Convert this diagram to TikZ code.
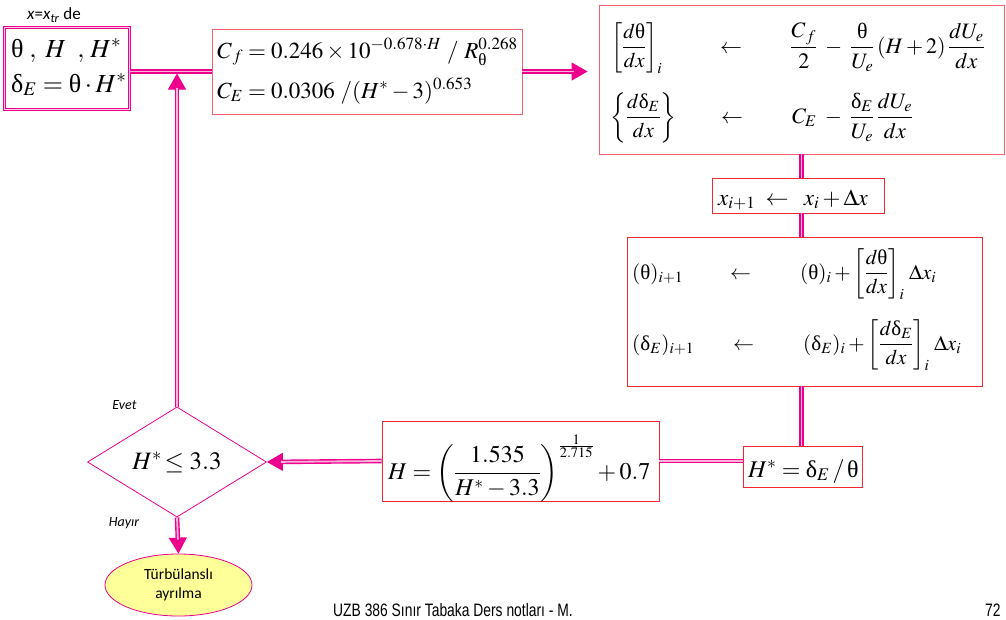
\documentclass[tikz,border=0pt]{standalone}
\usepackage{amsmath}
\usepackage{mathptmx}
\usepackage[no-math]{fontspec}
\setmainfont{Liberation Serif}
\setsansfont{Carlito}
\newfontfamily\footfont{Liberation Sans}
\usepackage{graphicx}
\usetikzlibrary{arrows.meta,shapes.geometric}

% upright Greek letters taken from the text font
\newcommand{\tht}{\text{\normalfont θ}}
\newcommand{\dlt}{\text{\normalfont δ}}
\newcommand{\fsz}[1]{\fontsize{#1}{#1}\selectfont}

\definecolor{salmon}{RGB}{242,96,108}
\definecolor{boxred}{RGB}{240,40,50}
\definecolor{paleyellow}{RGB}{255,255,153}

\tikzset{
  link/.style={draw=magenta, line width=1.4pt, double=magenta!30, double distance=1.8pt},
  tipline/.style={draw=magenta, line width=1pt, -{Triangle[length=16pt,width=18pt]}},
  frame/.style={draw=salmon, line width=0.9pt, inner sep=0pt},
  redframe/.style={draw=boxred, line width=0.8pt, inner sep=0pt},
  tlframe/.style={draw=magenta, line width=0.7pt, double=magenta!20, double distance=1.6pt, inner sep=0pt},
  txt/.style={anchor=base west, inner sep=0pt},
}

\begin{document}
\begin{tikzpicture}[x=1pt,y=-1pt]
\useasboundingbox (0,0) rectangle (1006,619);

% start condition
\node[anchor=center, inner sep=0pt] (start) at (54,15)
  {\sffamily\fsz{17}\textit{x}=\textit{x}\textsubscript{\textit{tr}} de};
\node[tlframe, minimum width=125pt, minimum height=82pt] (tl) at (67,68.5) {};
\node[txt] (tl1) at (11,57) {\fsz{26}$\tht\;,\;H\;\;,\,H^{*}$};
\node[txt] (tl2) at (11,92) {\fsz{26}$\dlt_E=\tht\cdot H^{*}$};

% skin friction and entrainment
\node[frame, minimum width=310pt, minimum height=85pt] (cf) at (367,71.5) {};
\node[txt] (cf1) at (217,58) {\fsz{23}$C_{\,f}=0.246\times10^{-0.678\cdot H}\ /\ R_{\tht}^{0.268}$};
\node[txt] (cf2) at (217,98) {\fsz{23}$C_E=0.0306\ /(H^{*}-3)^{0.653}$};

% derivatives
\node[frame, minimum width=405pt, minimum height=149pt] (tr) at (801.5,79.5) {};
\node[txt] (tra) at (611,53) {\fsz{21}$\left[\dfrac{d\tht}{dx}\right]_i$};
\node[txt] (trb) at (720,53) {\fsz{22}$\leftarrow$};
\node[txt] (trc) at (790,53) {\fsz{22}$\dfrac{C_{\,f}}{2}\;-\;\dfrac{\tht}{U_e}\,(H+2)\,\dfrac{dU_e}{dx}$};
\node[txt] (trd) at (610,123) {\fsz{21}$\left\{\dfrac{d\dlt_E}{dx}\right\}$};
\node[txt] (tre) at (721,123) {\fsz{22}$\leftarrow$};
\node[txt] (trf) at (792,123) {\fsz{22}$C_E\;-\;\dfrac{\dlt_E}{U_e}\,\dfrac{dU_e}{dx}$};

% step
\node[redframe, minimum width=172pt, minimum height=35pt] (xb) at (798,195.5) {};
\node[txt] (xbt) at (718,205) {\fsz{23}$x_{i+1}\;\leftarrow\;\;x_i+\Delta x$};

% update
\node[redframe, minimum width=355pt, minimum height=149pt] (mid) at (804.5,311.5) {};
\node[txt] (ma) at (632,279) {\fsz{21}$(\tht)_{i+1}$};
\node[txt] (mb) at (730,279) {\fsz{21}$\leftarrow$};
\node[txt] (mc) at (800,279) {\fsz{21}$(\tht)_i+\left[\dfrac{d\tht}{dx}\right]_i\,\Delta x_i$};
\node[txt] (md) at (632,350) {\fsz{21}$(\dlt_E)_{i+1}$};
\node[txt] (me) at (733,350) {\fsz{21}$\leftarrow$};
\node[txt] (mf) at (803,350) {\fsz{21}$(\dlt_E)_i+\left[\dfrac{d\dlt_E}{dx}\right]_i\,\Delta x_i$};

% shape factors
\node[redframe, minimum width=119pt, minimum height=41pt] (hs) at (802.5,466.5) {};
\node[txt] (hst) at (748,477) {\fsz{24}$H^{*}=\dlt_E\,/\,\tht$};
\node[redframe, minimum width=277pt, minimum height=80pt] (hb) at (520.5,461) {};
\node[txt] (hbt) at (388,479) {\fsz{24}$H=\left(\dfrac{1.535}{H^{*}-3.3}\right)^{\frac{1}{2.715}}+0.7$};

% decision and end
\node[diamond, draw=magenta, line width=0.8pt, inner sep=0pt, minimum width=179pt, minimum height=81pt] (dia) at (177,462)
  {\fsz{25}$H^{*}\!\le 3.3$};
\node[ellipse, draw=magenta, line width=0.8pt, fill=paleyellow, minimum width=147pt, minimum height=62pt, align=center, inner sep=0pt,
      font={\sffamily\fontsize{15.5}{19}\selectfont}] (ell) at (178.5,585)
  {Türbülanslı\\ ayrılma};
\node[inner sep=0pt] (evet) at (124.5,405) {\sffamily\itshape\fsz{14}Evet};
\node[inner sep=0pt] (hayir) at (124,523) {\sffamily\itshape\fsz{14}Hayır};

% footer
\node[txt] (foot) at (333,616) {\footfont\fsz{18}\scalebox{0.77}[1]{UZB 386 Sınır Tabaka Ders notları - M.}};
\node[txt] (page) at (985,616) {\footfont\fsz{18}\scalebox{0.77}[1]{72}};

% connectors
\draw[link] (tl.east |- cf.west) -- (cf.west);
\draw[tipline, shorten >=11pt] (cf.east) -- (tr.west |- cf.east);
\draw[link, shorten >=25pt] (cf.east) -- (tr.west |- cf.east);
\draw[link] (tr.south) -- (tr.south |- xb.north);
\draw[link] (tr.south |- xb.south) -- (tr.south |- mid.north);
\draw[link] (tr.south |- mid.south) -- (tr.south |- hs.north);
\draw[link] (hb.east) -- (hs.west |- hb.east);
\draw[tipline] (hb.west) -- (dia.east);
\draw[link, shorten >=14pt] (hb.west) -- (dia.east);
\draw[tipline] (dia.south) -- (ell.north);
\draw[link, shorten >=14pt] (dia.south) -- (ell.north);
\draw[tipline, shorten >=2pt] (dia.north) -- (dia.north |- cf.west);
\draw[link, shorten >=16pt] (dia.north) -- (dia.north |- cf.west);
\end{tikzpicture}
\end{document}
